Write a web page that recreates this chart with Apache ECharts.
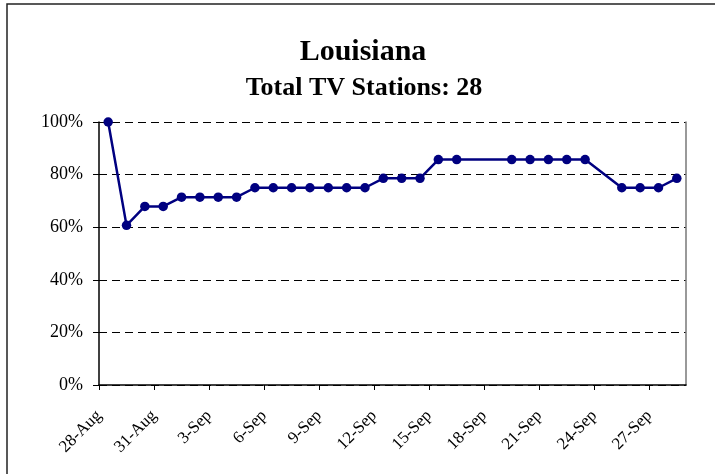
<!DOCTYPE html>
<html>
<head>
<meta charset="utf-8">
<script src="https://cdn.jsdelivr.net/npm/echarts@6/dist/echarts.min.js"></script>
<style>
  html, body { margin: 0; padding: 0; background: #fff; }
  #chart { width: 715px; height: 474px; }
</style>
</head>
<body>
<div id="chart"></div>
<script>
// Share of Louisiana TV stations on the air, by day
const titleText = 'Louisiana';
const subtitleText = 'Total TV Stations: 28';

const dates = [
  '28-Aug', '29-Aug', '30-Aug', '31-Aug', '1-Sep', '2-Sep', '3-Sep', '4-Sep',
  '5-Sep', '6-Sep', '7-Sep', '8-Sep', '9-Sep', '10-Sep', '11-Sep', '12-Sep',
  '13-Sep', '14-Sep', '15-Sep', '16-Sep', '19-Sep', '20-Sep', '21-Sep',
  '22-Sep', '23-Sep', '25-Sep', '26-Sep', '27-Sep', '28-Sep'
];
const percentOnAir = [
  100, 60.7, 67.9, 67.9, 71.4, 71.4, 71.4, 71.4,
  75, 75, 75, 75, 75, 75, 75, 78.6,
  78.6, 78.6, 85.7, 85.7, 85.7, 85.7, 85.7,
  85.7, 85.7, 75, 75, 75, 78.6
];
const tickLabels = [
  '28-Aug', '31-Aug', '3-Sep', '6-Sep', '9-Sep', '12-Sep',
  '15-Sep', '18-Sep', '21-Sep', '24-Sep', '27-Sep'
];
const axisStart = '28-Aug';
const axisEnd = '29-Sep';
const yTicks = [0, 20, 40, 60, 80, 100];

const YEAR = 2005;
const MONTHS = { Aug: 7, Sep: 8 };
const DAY_MS = 86400000;
// days elapsed since the first day on the axis
function dayIndex(label) {
  const p = label.split('-');
  const s = axisStart.split('-');
  return Math.round((Date.UTC(YEAR, MONTHS[p[1]], +p[0]) - Date.UTC(YEAR, MONTHS[s[1]], +s[0])) / DAY_MS);
}

// each day's point sits in the middle of its day slot
const seriesData = dates.map((d, i) => [dayIndex(d) + 0.5, percentOnAir[i]]);
const tickValues = tickLabels.map(dayIndex);
const labelByDay = {};
tickLabels.forEach((l, i) => { labelByDay[tickValues[i]] = l; });

const serif = '"Liberation Serif", "Times New Roman", serif';

const chart = echarts.init(document.getElementById('chart'), null, { renderer: 'canvas' });
chart.setOption({
  backgroundColor: '#fff',
  animation: false,
  graphic: [{
    type: 'rect',
    silent: true,
    shape: { x: 7, y: 4, width: 760, height: 520 },
    style: { fill: 'none', stroke: '#222', lineWidth: 1.5 }
  }],
  title: [{
    text: titleText,
    left: 358, top: 32, textAlign: 'center',
    textStyle: { fontFamily: serif, fontWeight: 'bold', fontSize: 30, color: '#000' }
  }, {
    text: subtitleText,
    left: 359, top: 70, textAlign: 'center',
    textStyle: { fontFamily: serif, fontWeight: 'bold', fontSize: 26, color: '#000' }
  }],
  grid: { left: 99, top: 122, width: 587, height: 263, containLabel: false },
  xAxis: {
    type: 'value',
    min: 0,
    max: dayIndex(axisEnd),
    splitLine: { show: false },
    axisLine: { lineStyle: { color: '#000', width: 1.5 } },
    axisTick: { show: true, length: 5, customValues: tickValues, lineStyle: { color: '#000', width: 1 } },
    axisLabel: {
      customValues: tickValues,
      rotate: 45,
      margin: 28,
      fontFamily: serif,
      fontSize: 17,
      color: '#000',
      formatter: v => labelByDay[v] || ''
    }
  },
  yAxis: [{
    type: 'value',
    min: yTicks[0],
    max: yTicks[yTicks.length - 1],
    interval: yTicks[1] - yTicks[0],
    axisLine: { show: true, lineStyle: { color: '#000', width: 1.5 } },
    axisTick: { show: true, length: 6, lineStyle: { color: '#000', width: 1 } },
    axisLabel: { margin: 16, fontFamily: serif, fontSize: 18, color: '#000', formatter: '{value}%' },
    splitLine: { show: true, lineStyle: { color: '#000', width: 1, type: [8, 5] } }
  }, {
    type: 'value',
    position: 'right',
    min: yTicks[0],
    max: yTicks[yTicks.length - 1],
    axisLine: { show: true, lineStyle: { color: '#777', width: 1.5 } },
    axisTick: { show: false },
    axisLabel: { show: false },
    splitLine: { show: false }
  }],
  series: [{
    type: 'line',
    data: seriesData,
    symbol: 'circle',
    symbolSize: 9.5,
    itemStyle: { color: '#000080' },
    lineStyle: { color: '#000080', width: 2.5 },
    z: 3
  }]
});
</script>
</body>
</html>
